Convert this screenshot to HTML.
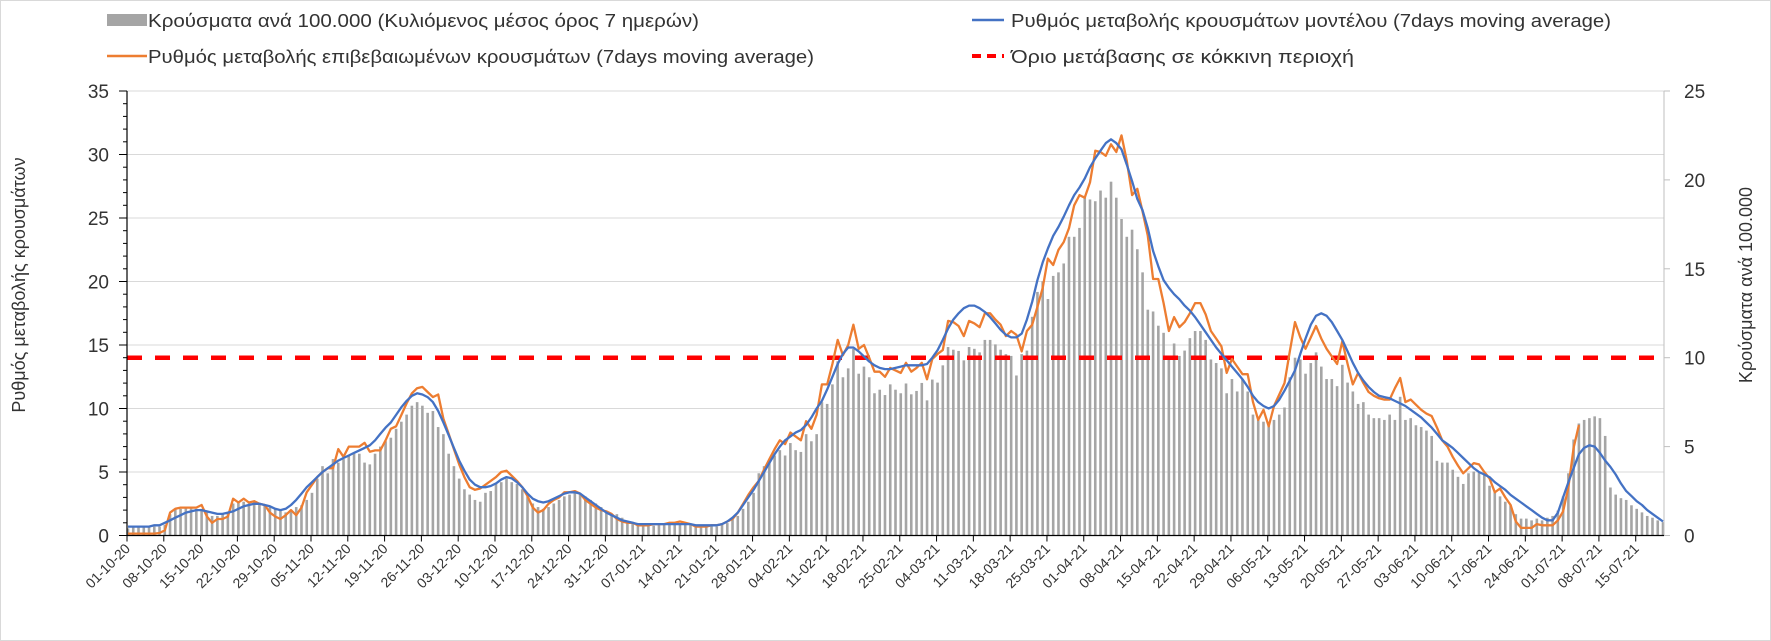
<!DOCTYPE html>
<html><head><meta charset="utf-8"><style>
html,body{margin:0;padding:0;background:#fff;}
svg{display:block;font-family:"Liberation Sans","DejaVu Sans",sans-serif;}
</style></head><body>
<svg id="chart" width="1771" height="641" viewBox="0 0 1771 641" xmlns="http://www.w3.org/2000/svg">
<rect x="0.5" y="0.5" width="1770" height="640" fill="#fff" stroke="#d9d9d9"/>
<g id="grid"></g>
<g id="bars"></g>
<g id="lines"></g>
<g id="axes"></g>
<g font-size="18" fill="#333">
  <g>
    <rect x="107" y="14" width="40" height="12" fill="#a5a5a5"/>
    <text x="148" y="27" textLength="551" lengthAdjust="spacingAndGlyphs">Κρούσματα ανά 100.000 (Κυλιόμενος μέσος όρος 7 ημερών)</text>
  </g>
  <g>
    <line x1="107" y1="56" x2="147" y2="56" stroke="#ed7d31" stroke-width="2.5"/>
    <text x="148" y="63" textLength="666" lengthAdjust="spacingAndGlyphs">Ρυθμός μεταβολής επιβεβαιωμένων κρουσμάτων (7days moving average)</text>
  </g>
  <g>
    <line x1="972" y1="20" x2="1004" y2="20" stroke="#4472c4" stroke-width="2.5"/>
    <text x="1011" y="27" textLength="600" lengthAdjust="spacingAndGlyphs">Ρυθμός μεταβολής κρουσμάτων μοντέλου (7days moving average)</text>
  </g>
  <g>
    <line x1="972" y1="56" x2="1004" y2="56" stroke="#ff0000" stroke-width="4" stroke-dasharray="9,6"/>
    <text x="1011" y="63" textLength="343" lengthAdjust="spacingAndGlyphs">Όριο μετάβασης σε κόκκινη περιοχή</text>
  </g>
</g>
<text x="0" y="0" font-size="18" fill="#333" text-anchor="middle" transform="translate(25,285) rotate(-90)">Ρυθμός μεταβολής κρουσμάτων</text>
<text x="0" y="0" font-size="18" fill="#333" text-anchor="middle" transform="translate(1752,285) rotate(-90)">Κρούσματα ανά 100.000</text>
</svg>
<script>
const startDate = [2020, 9, 1];
const leftTicks = [0,5,10,15,20,25,30,35];
const rightTicks = [0,5,10,15,20,25];
const threshold = 14;
const modelRate = [
0.7,0.7,0.7,0.7,0.7,0.8,0.8, 1.0,1.2,1.4,1.6,1.8,1.9,2.0, 2.0,1.9,1.8,1.7,1.7,1.8,1.9,
2.1,2.3,2.4,2.5,2.5,2.4,2.3, 2.1,2.0,2.1,2.4,2.8,3.3,3.8, 4.2,4.6,5.0,5.3,5.6,5.9,6.1,
6.3,6.5,6.7,6.9,7.1,7.5,8.0, 8.5,8.9,9.5,10.1,10.6,11.0,11.2, 11.1,10.9,10.5,9.8,8.9,7.9,6.9,
5.9,5.1,4.4,4.0,3.8,3.8,3.9, 4.1,4.4,4.6,4.5,4.2,3.8,3.3, 2.9,2.7,2.6,2.7,2.9,3.1,3.3,
3.4,3.4,3.3,3.0,2.7,2.4,2.1, 1.8,1.6,1.4,1.2,1.1,1.0,0.9, 0.9,0.9,0.9,0.9,0.9,0.9,0.9,
0.9,0.9,0.9,0.8,0.8,0.8,0.8, 0.8,0.9,1.1,1.4,1.8,2.4,3.0, 3.6,4.3,5.0,5.7,6.4,7.0,7.5,
7.8,8.1,8.3,8.7,9.3,10.0,10.6, 11.5,12.5,13.5,14.3,14.8,14.8,14.5, 14.1,13.7,13.4,13.2,13.1,13.1,13.2,
13.3,13.4,13.4,13.4,13.4,13.5,14.0, 14.6,15.4,16.3,17.0,17.5,17.9,18.1, 18.1,17.9,17.6,17.2,16.7,16.2,15.8,
15.6,15.6,15.9,17.0,18.4,20.1,21.5, 22.6,23.6,24.3,25.1,26.0,26.8,27.4, 28.1,29.0,29.7,30.3,30.9,31.2,30.9,
30.4,29.2,27.9,26.5,25.6,24.2,22.4, 21.2,20.1,19.5,19.0,18.6,18.1,17.7, 17.2,16.6,16.0,15.4,14.8,14.3,13.8,
13.3,12.8,12.3,11.7,11.0,10.5,10.2, 10.0,10.2,10.7,11.4,12.2,13.0,14.3, 15.5,16.6,17.3,17.5,17.3,16.8,16.1,
15.4,14.5,13.6,12.8,12.2,11.7,11.3, 11.0,10.9,10.8,10.6,10.4,10.2,9.9, 9.6,9.3,8.9,8.5,8.0,7.5,7.2,
6.9,6.5,6.1,5.7,5.3,5.0,4.8, 4.6,4.2,3.9,3.6,3.2,2.9,2.6, 2.3,2.0,1.7,1.4,1.2,1.2,1.8,
3.0,4.2,5.3,6.4,6.9,7.1,7.0, 6.5,5.9,5.4,4.8,4.1,3.5,3.1, 2.7,2.4,2.0,1.7,1.4,1.1
];
const confirmedRate = [
0.15,0.15,0.15,0.15,0.15,0.15,0.2, 0.4,1.8,2.1,2.2,2.2,2.2,2.2, 2.4,1.5,1.0,1.3,1.3,1.5,2.9,
2.6,2.9,2.6,2.7,2.5,2.4,1.8, 1.5,1.3,1.6,2.0,1.6,2.2,3.4, 4.0,4.6,5.0,5.3,5.3,6.8,6.2,
7.0,7.0,7.0,7.3,6.6,6.7,6.7, 7.5,8.4,8.6,9.5,10.4,11.2,11.6, 11.7,11.3,10.9,11.1,9.2,8.0,6.8,
5.6,4.6,3.8,3.6,3.7,4.0,4.3, 4.6,5.0,5.1,4.7,4.3,3.8,3.1, 2.2,1.8,2.0,2.5,2.8,3.0,3.4,
3.4,3.5,3.3,2.8,2.5,2.2,2.0, 1.9,1.7,1.3,1.1,1.0,1.0,0.8, 0.8,0.8,0.9,0.9,0.9,1.0,1.0,
1.1,1.0,0.9,0.7,0.7,0.7,0.8, 0.8,0.9,1.1,1.3,1.8,2.5,3.2, 3.8,4.3,5.2,6.0,6.8,7.5,7.2,
8.1,7.8,7.5,9.0,8.4,9.5,11.9, 11.9,13.5,15.4,14.2,15.0,16.6,14.7, 15.0,14.0,12.9,12.9,12.5,13.2,13.0,
12.8,13.6,12.9,13.2,13.6,12.3,13.9, 14.3,14.6,16.9,16.8,16.5,15.7,16.9, 16.7,16.4,17.5,17.5,17.0,16.6,15.7,
16.1,15.8,14.5,16.1,16.6,18.0,19.5, 21.8,21.3,22.5,23.1,24.2,26.0,26.8, 26.6,27.8,30.3,30.2,29.9,30.8,30.2,
31.5,29.5,26.8,27.3,25.5,23.6,20.2, 20.2,18.3,16.1,17.2,16.4,16.8,17.5, 18.3,18.3,17.4,16.1,15.5,14.9,12.8,
13.9,13.3,12.7,12.7,10.5,9.1,9.9, 8.6,10.2,11.1,12.0,14.5,16.8,15.6, 14.7,15.6,16.5,15.5,14.7,14.1,13.5,
15.3,13.5,11.9,12.8,12.0,11.3,11.0, 10.8,10.7,10.7,11.6,12.4,10.5,10.7, 10.3,9.9,9.6,9.4,8.5,7.5,7.0,
6.2,5.5,4.9,5.3,5.7,5.6,5.0, 4.5,3.4,3.7,3.0,2.4,1.1,0.6, 0.6,0.6,0.9,0.8,0.8,0.8,1.2,
1.9,3.8,6.9,8.7
];
const casesPer100k = [
0.4,0.45,0.45,0.45,0.45,0.5,0.5, 0.6,1.2,1.5,1.5,1.6,1.6,1.5, 1.5,1.4,1.1,1.1,1.2,1.3,1.8,
1.9,1.9,1.8,1.9,1.8,1.7,1.6, 1.5,1.4,1.3,1.4,1.6,1.7,2.0, 2.4,3.2,3.9,3.5,4.3,4.1,4.3,
4.5,4.6,4.6,4.1,4.0,4.6,5.0, 5.3,5.5,6.0,6.4,6.8,7.3,7.5, 7.3,6.9,7.0,6.1,5.7,4.6,3.9,
3.2,2.6,2.3,2.0,1.9,2.4,2.5, 2.9,3.0,3.2,3.0,2.9,2.6,2.2, 1.8,1.6,1.5,1.6,1.8,2.0,2.2,
2.3,2.4,2.3,2.2,2.0,1.8,1.6, 1.4,1.2,1.2,1.0,0.8,0.7,0.6, 0.6,0.6,0.55,0.6,0.6,0.65,0.6,
0.65,0.7,0.6,0.6,0.55,0.6,0.55, 0.5,0.6,0.7,0.9,1.1,1.5,1.9, 2.4,3.5,3.9,4.2,4.5,4.8,4.5,
5.2,4.8,4.7,5.7,5.3,5.7,7.5, 7.4,8.5,9.8,8.9,9.4,10.5,9.1, 9.5,8.9,8.0,8.2,7.9,8.5,8.2,
8.0,8.55,7.94,8.13,8.58,7.6,8.77, 8.6,9.57,10.6,10.45,10.38,9.85,10.6, 10.5,10.3,11.0,11.0,10.75,10.45,10.2,
10.1,9.0,10.2,10.4,12.3,13.7,14.3, 13.3,14.6,14.8,15.3,16.8,16.8,17.3, 19.1,18.9,18.8,19.4,19.0,19.9,19.0,
17.8,16.8,17.2,16.1,14.8,12.7,12.6, 11.8,11.4,9.9,10.8,10.1,10.4,11.1, 11.5,11.5,11.0,9.9,9.7,9.4,8.0,
8.8,8.1,8.8,8.1,6.8,6.5,6.4, 6.2,6.5,6.8,7.2,8.9,10.0,9.9, 9.1,9.7,10.3,9.5,8.8,8.8,8.4,
9.6,8.6,8.1,7.4,7.5,6.8,6.6, 6.6,6.5,6.8,6.5,7.8,6.5,6.6, 6.2,6.1,5.9,5.6,4.2,4.1,4.1,
3.7,3.3,2.9,3.5,3.6,3.6,3.4, 2.8,2.5,2.2,1.9,1.7,1.2,0.95, 0.95,0.85,0.95,0.85,1.0,1.1,1.4,
2.2,3.5,5.4,6.3,6.5,6.6,6.7, 6.6,5.6,2.7,2.3,2.1,2.0,1.7, 1.5,1.3,1.1,1.0,0.85,0.75
];

const NS = "http://www.w3.org/2000/svg";
const X0 = 127, X1 = 1664, Y0 = 535.5, YTOP = 91;
const nDays = modelRate.length;
const step = (X1 - X0 - 2) / (nDays - 1);
function xScale(d){ return X0 + 1 + d * step; }
function yLeft(v){ return Y0 - v / 35 * (Y0 - YTOP); }
function yRight(v){ return Y0 - v / 25 * (Y0 - YTOP); }
function mk(tag, attrs, parent){
  const e = document.createElementNS(NS, tag);
  for (const k in attrs) e.setAttribute(k, attrs[k]);
  parent.appendChild(e); return e;
}
const grid = document.getElementById('grid');
const bars = document.getElementById('bars');
const lines = document.getElementById('lines');
const axes = document.getElementById('axes');

leftTicks.forEach(t => {
  if (t > 0) {
    const g = mk('line', {x1:X0, x2:X1, y1:yLeft(t), y2:yLeft(t), stroke:'#d9d9d9', 'stroke-width':1}, grid);
    
    
  }
  const lb = mk('text', {x:109, y:yLeft(t)+7, 'font-size':19, fill:'#333', 'text-anchor':'end'}, axes);
  lb.textContent = t;
  
  
  mk('line', {x1:119, x2:X0, y1:yLeft(t), y2:yLeft(t), stroke:'#000', 'stroke-width':1}, axes);
});
for (let v = 1; v < 35; v++) {
  if (v % 5) mk('line', {x1:123, x2:X0, y1:yLeft(v), y2:yLeft(v), stroke:'#000', 'stroke-width':1}, axes);
}
rightTicks.forEach(t => {
  const lb = mk('text', {x:1684, y:yRight(t)+7, 'font-size':19, fill:'#333', 'text-anchor':'start'}, axes);
  lb.textContent = t;
  
  
  mk('line', {x1:X1, x2:X1+6, y1:yRight(t), y2:yRight(t), stroke:'#bfbfbf', 'stroke-width':1}, axes);
});

casesPer100k.forEach((v, d) => {
  const y = yRight(v);
  const b = mk('rect', {x:xScale(d)-1.3, y:y, width:2.6, height:Y0 - y, fill:'#a5a5a5'}, bars);
  
  
});

const thr = mk('line', {x1:X0, x2:X1, y1:yLeft(threshold), y2:yLeft(threshold), stroke:'#ff0000', 'stroke-width':4.5, 'stroke-dasharray':'15,13'}, lines);



function pathFrom(arr){
  let s = '';
  arr.forEach((v, d) => { s += (d ? 'L' : 'M') + xScale(d).toFixed(1) + ' ' + yLeft(v).toFixed(1); });
  return s;
}
const po = mk('path', {d:pathFrom(confirmedRate), fill:'none', stroke:'#ed7d31', 'stroke-width':2.3, 'stroke-linejoin':'round'}, lines);


const pb = mk('path', {d:pathFrom(modelRate), fill:'none', stroke:'#4472c4', 'stroke-width':2.3, 'stroke-linejoin':'round'}, lines);



mk('line', {x1:X0, x2:X0, y1:YTOP, y2:Y0, stroke:'#000', 'stroke-width':1.2}, axes);
mk('line', {x1:X1, x2:X1, y1:YTOP, y2:Y0, stroke:'#bfbfbf', 'stroke-width':1}, axes);
mk('line', {x1:X0, x2:X1, y1:Y0, y2:Y0, stroke:'#000', 'stroke-width':1.2}, axes);

function pad(n){ return (n < 10 ? '0' : '') + n; }
for (let d = 0; d < nDays; d += 7) {
  const dt = new Date(startDate[0], startDate[1], startDate[2] + d);
  const label = pad(dt.getDate()) + '-' + pad(dt.getMonth()+1) + '-' + String(dt.getFullYear()).slice(2);
  const x = xScale(d) - 1;
  mk('line', {x1:x, x2:x, y1:Y0, y2:Y0+6, stroke:'#000', 'stroke-width':1}, axes);
  const t = mk('text', {x:0, y:0, 'font-size':14, fill:'#333', 'text-anchor':'end', transform:'translate(' + (x+4) + ',' + (Y0+14) + ') rotate(-45)'}, axes);
  t.textContent = label;
  
  
}
</script>
</body></html>
